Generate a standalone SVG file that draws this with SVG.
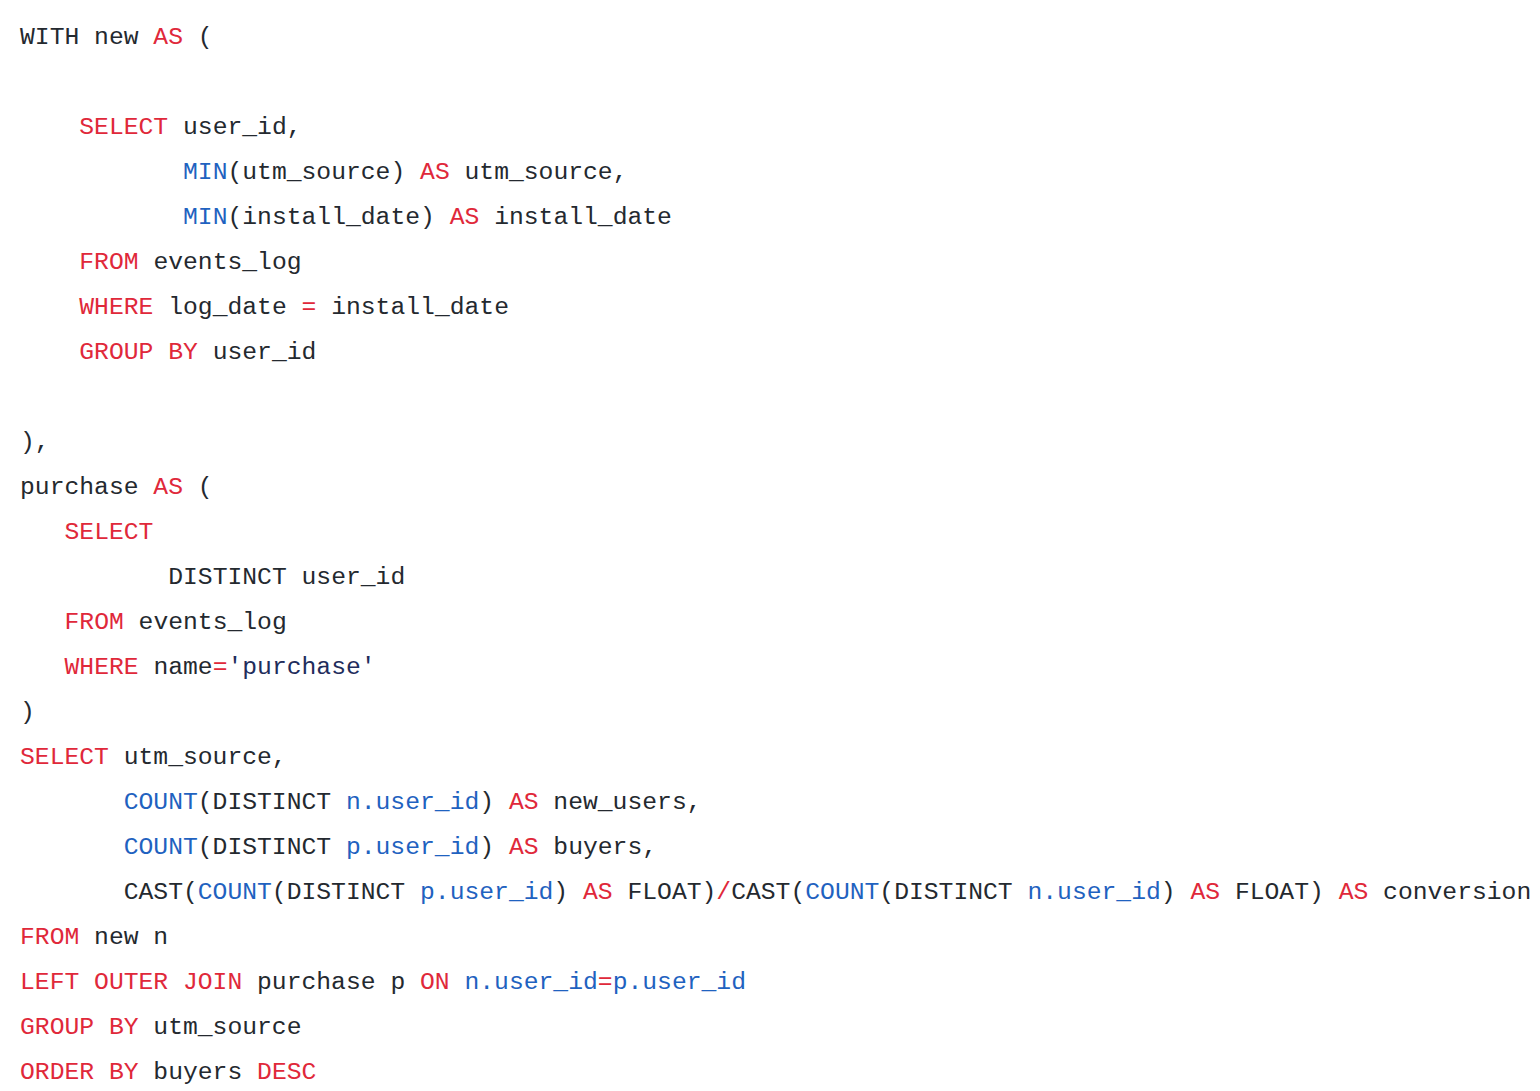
<svg xmlns="http://www.w3.org/2000/svg" width="1540" height="1091" viewBox="0 0 1540 1091">
<style>
text{font-family:"Liberation Mono","DejaVu Sans Mono",monospace;font-size:24.7px;fill:#24292f;white-space:pre}
.k{fill:#e0283a}
.f{fill:#1f62c0}
.s{fill:#1f2d5c}
</style>
<rect width="1540" height="1091" fill="#ffffff"/>
<g id="code" xml:space="preserve" transform="translate(0,-1)">
<text x="20" y="45">WITH new <tspan class="k">AS</tspan> (</text>
<text x="79.3" y="135"><tspan class="k">SELECT</tspan> user_id,</text>
<text x="183" y="180"><tspan class="f">MIN</tspan>(utm_source) <tspan class="k">AS</tspan> utm_source,</text>
<text x="183" y="225"><tspan class="f">MIN</tspan>(install_date) <tspan class="k">AS</tspan> install_date</text>
<text x="79.3" y="270"><tspan class="k">FROM</tspan> events_log</text>
<text x="79.3" y="315"><tspan class="k">WHERE</tspan> log_date <tspan class="k">=</tspan> install_date</text>
<text x="79.3" y="360"><tspan class="k">GROUP BY</tspan> user_id</text>
<text x="20" y="450">),</text>
<text x="20" y="495">purchase <tspan class="k">AS</tspan> (</text>
<text x="64.5" y="540"><tspan class="k">SELECT</tspan></text>
<text x="168.2" y="585">DISTINCT user_id</text>
<text x="64.5" y="630"><tspan class="k">FROM</tspan> events_log</text>
<text x="64.5" y="675"><tspan class="k">WHERE</tspan> name<tspan class="k">=</tspan><tspan class="s">'purchase'</tspan></text>
<text x="20" y="720">)</text>
<text x="20" y="765"><tspan class="k">SELECT</tspan> utm_source,</text>
<text x="123.7" y="810"><tspan class="f">COUNT</tspan>(DISTINCT <tspan class="f">n.user_id</tspan>) <tspan class="k">AS</tspan> new_users,</text>
<text x="123.7" y="855"><tspan class="f">COUNT</tspan>(DISTINCT <tspan class="f">p.user_id</tspan>) <tspan class="k">AS</tspan> buyers,</text>
<text x="123.7" y="900">CAST(<tspan class="f">COUNT</tspan>(DISTINCT <tspan class="f">p.user_id</tspan>) <tspan class="k">AS</tspan> FLOAT)<tspan class="k">/</tspan>CAST(<tspan class="f">COUNT</tspan>(DISTINCT <tspan class="f">n.user_id</tspan>) <tspan class="k">AS</tspan> FLOAT) <tspan class="k">AS</tspan> conversion</text>
<text x="20" y="945"><tspan class="k">FROM</tspan> new n</text>
<text x="20" y="990"><tspan class="k">LEFT OUTER JOIN</tspan> purchase p <tspan class="k">ON</tspan> <tspan class="f">n.user_id</tspan><tspan class="k">=</tspan><tspan class="f">p.user_id</tspan></text>
<text x="20" y="1035"><tspan class="k">GROUP BY</tspan> utm_source</text>
<text x="20" y="1080"><tspan class="k">ORDER BY</tspan> buyers <tspan class="k">DESC</tspan></text>
</g>
</svg>
